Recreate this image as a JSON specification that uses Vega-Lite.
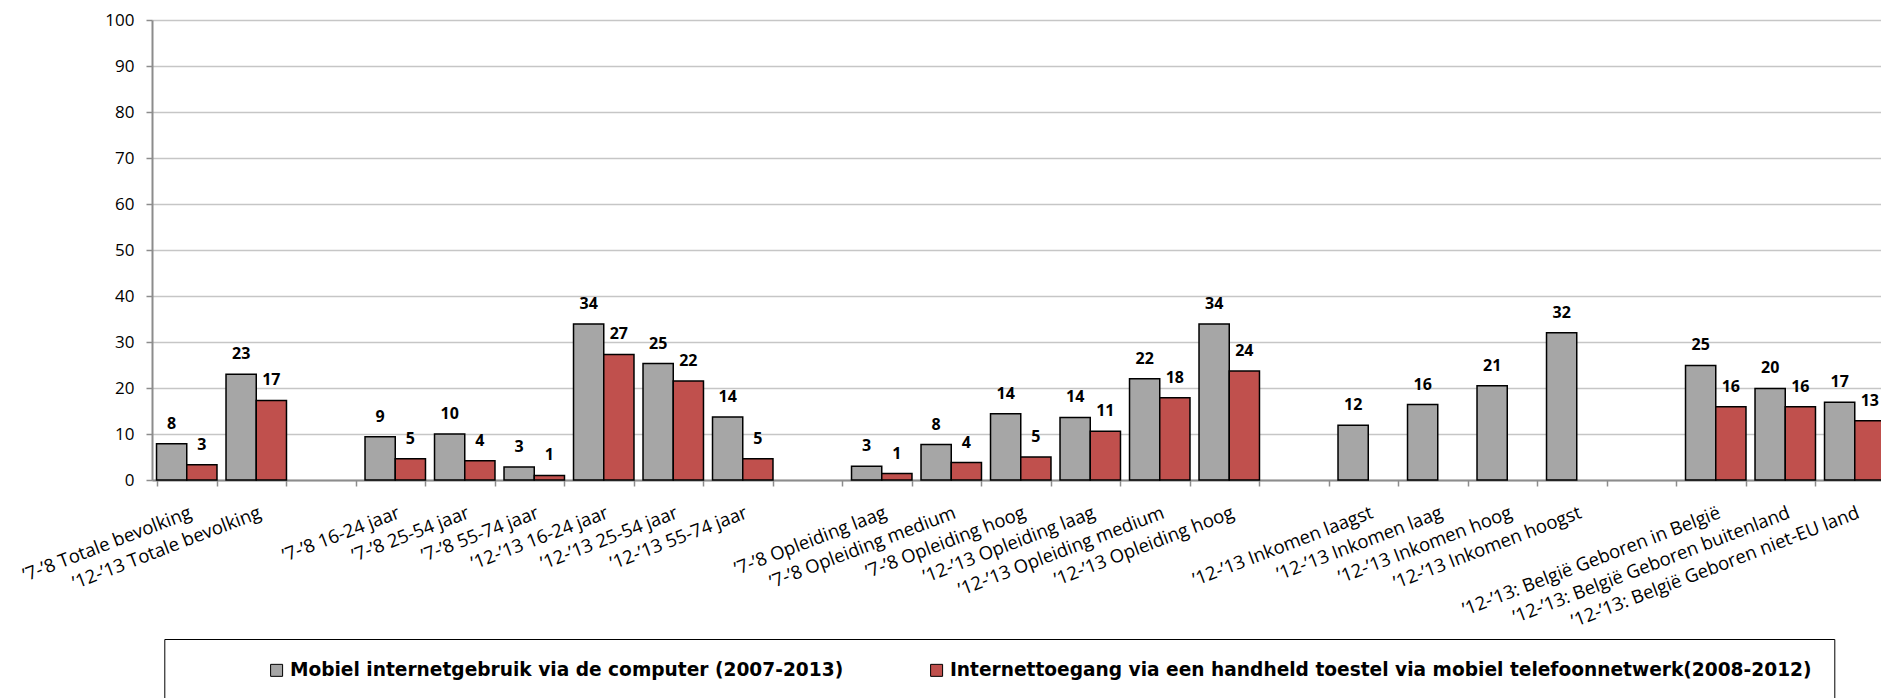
{
  "$schema": "https://vega.github.io/schema/vega-lite/v6.json",
  "width": 1729,
  "height": 460,
  "autosize": {"type": "none"},
  "padding": {"left": 152, "top": 20, "right": 0, "bottom": 218},
  "background": "white",
  "config": {"view": {"stroke": null}, "font": "Open Sans"},
  "data": {
    "values": [
      {"groep": "’7-’8 Totale bevolking", "reeks": "Mobiel internetgebruik via de computer (2007-2013)", "waarde": 7.9},
      {"groep": "’7-’8 Totale bevolking", "reeks": "Internettoegang via een handheld toestel via mobiel telefoonnetwerk(2008-2012)", "waarde": 3.3},
      {"groep": "’12-’13 Totale bevolking", "reeks": "Mobiel internetgebruik via de computer (2007-2013)", "waarde": 23.0},
      {"groep": "’12-’13 Totale bevolking", "reeks": "Internettoegang via een handheld toestel via mobiel telefoonnetwerk(2008-2012)", "waarde": 17.3},
      {"groep": "’7-’8 16-24 jaar", "reeks": "Mobiel internetgebruik via de computer (2007-2013)", "waarde": 9.4},
      {"groep": "’7-’8 16-24 jaar", "reeks": "Internettoegang via een handheld toestel via mobiel telefoonnetwerk(2008-2012)", "waarde": 4.6},
      {"groep": "’7-’8 25-54 jaar", "reeks": "Mobiel internetgebruik via de computer (2007-2013)", "waarde": 10.0},
      {"groep": "’7-’8 25-54 jaar", "reeks": "Internettoegang via een handheld toestel via mobiel telefoonnetwerk(2008-2012)", "waarde": 4.2},
      {"groep": "’7-’8 55-74 jaar", "reeks": "Mobiel internetgebruik via de computer (2007-2013)", "waarde": 2.8},
      {"groep": "’7-’8 55-74 jaar", "reeks": "Internettoegang via een handheld toestel via mobiel telefoonnetwerk(2008-2012)", "waarde": 1.0},
      {"groep": "’12-’13 16-24 jaar", "reeks": "Mobiel internetgebruik via de computer (2007-2013)", "waarde": 33.9},
      {"groep": "’12-’13 16-24 jaar", "reeks": "Internettoegang via een handheld toestel via mobiel telefoonnetwerk(2008-2012)", "waarde": 27.3},
      {"groep": "’12-’13 25-54 jaar", "reeks": "Mobiel internetgebruik via de computer (2007-2013)", "waarde": 25.3},
      {"groep": "’12-’13 25-54 jaar", "reeks": "Internettoegang via een handheld toestel via mobiel telefoonnetwerk(2008-2012)", "waarde": 21.5},
      {"groep": "’12-’13 55-74 jaar", "reeks": "Mobiel internetgebruik via de computer (2007-2013)", "waarde": 13.7},
      {"groep": "’12-’13 55-74 jaar", "reeks": "Internettoegang via een handheld toestel via mobiel telefoonnetwerk(2008-2012)", "waarde": 4.6},
      {"groep": "’7-’8 Opleiding laag", "reeks": "Mobiel internetgebruik via de computer (2007-2013)", "waarde": 3.0},
      {"groep": "’7-’8 Opleiding laag", "reeks": "Internettoegang via een handheld toestel via mobiel telefoonnetwerk(2008-2012)", "waarde": 1.4},
      {"groep": "’7-’8 Opleiding medium", "reeks": "Mobiel internetgebruik via de computer (2007-2013)", "waarde": 7.7},
      {"groep": "’7-’8 Opleiding medium", "reeks": "Internettoegang via een handheld toestel via mobiel telefoonnetwerk(2008-2012)", "waarde": 3.8},
      {"groep": "’7-’8 Opleiding hoog", "reeks": "Mobiel internetgebruik via de computer (2007-2013)", "waarde": 14.4},
      {"groep": "’7-’8 Opleiding hoog", "reeks": "Internettoegang via een handheld toestel via mobiel telefoonnetwerk(2008-2012)", "waarde": 5.0},
      {"groep": "’12-’13 Opleiding laag", "reeks": "Mobiel internetgebruik via de computer (2007-2013)", "waarde": 13.6},
      {"groep": "’12-’13 Opleiding laag", "reeks": "Internettoegang via een handheld toestel via mobiel telefoonnetwerk(2008-2012)", "waarde": 10.6},
      {"groep": "’12-’13 Opleiding medium", "reeks": "Mobiel internetgebruik via de computer (2007-2013)", "waarde": 22.0},
      {"groep": "’12-’13 Opleiding medium", "reeks": "Internettoegang via een handheld toestel via mobiel telefoonnetwerk(2008-2012)", "waarde": 17.9},
      {"groep": "’12-’13 Opleiding hoog", "reeks": "Mobiel internetgebruik via de computer (2007-2013)", "waarde": 33.9},
      {"groep": "’12-’13 Opleiding hoog", "reeks": "Internettoegang via een handheld toestel via mobiel telefoonnetwerk(2008-2012)", "waarde": 23.7},
      {"groep": "’12-’13 Inkomen laagst", "reeks": "Mobiel internetgebruik via de computer (2007-2013)", "waarde": 11.9},
      {"groep": "’12-’13 Inkomen laag", "reeks": "Mobiel internetgebruik via de computer (2007-2013)", "waarde": 16.4},
      {"groep": "’12-’13 Inkomen hoog", "reeks": "Mobiel internetgebruik via de computer (2007-2013)", "waarde": 20.5},
      {"groep": "’12-’13 Inkomen hoogst", "reeks": "Mobiel internetgebruik via de computer (2007-2013)", "waarde": 32.0},
      {"groep": "’12-’13: België Geboren in België", "reeks": "Mobiel internetgebruik via de computer (2007-2013)", "waarde": 24.9},
      {"groep": "’12-’13: België Geboren in België", "reeks": "Internettoegang via een handheld toestel via mobiel telefoonnetwerk(2008-2012)", "waarde": 15.9},
      {"groep": "’12-’13: België Geboren buitenland", "reeks": "Mobiel internetgebruik via de computer (2007-2013)", "waarde": 19.9},
      {"groep": "’12-’13: België Geboren buitenland", "reeks": "Internettoegang via een handheld toestel via mobiel telefoonnetwerk(2008-2012)", "waarde": 15.9},
      {"groep": "’12-’13: België Geboren niet-EU land", "reeks": "Mobiel internetgebruik via de computer (2007-2013)", "waarde": 16.9},
      {"groep": "’12-’13: België Geboren niet-EU land", "reeks": "Internettoegang via een handheld toestel via mobiel telefoonnetwerk(2008-2012)", "waarde": 12.9}
    ]
  },
  "encoding": {
    "x": {
      "field": "groep",
      "type": "nominal",
      "sort": null,
      "scale": {
        "domain": [
          "’7-’8 Totale bevolking", "’12-’13 Totale bevolking", " ",
          "’7-’8 16-24 jaar", "’7-’8 25-54 jaar", "’7-’8 55-74 jaar", "’12-’13 16-24 jaar", "’12-’13 25-54 jaar", "’12-’13 55-74 jaar", "  ",
          "’7-’8 Opleiding laag", "’7-’8 Opleiding medium", "’7-’8 Opleiding hoog", "’12-’13 Opleiding laag", "’12-’13 Opleiding medium", "’12-’13 Opleiding hoog", "   ",
          "’12-’13 Inkomen laagst", "’12-’13 Inkomen laag", "’12-’13 Inkomen hoog", "’12-’13 Inkomen hoogst", "    ",
          "’12-’13: België Geboren in België", "’12-’13: België Geboren buitenland", "’12-’13: België Geboren niet-EU land"
        ],
        "range": [0, 1737.5],
        "paddingInner": 0.13,
        "paddingOuter": 0.065
      },
      "axis": {
        "title": null,
        "labelAngle": -21,
        "labelAlign": "right",
        "labelBaseline": "top",
        "labelFont": "Open Sans",
        "labelFontSize": 18.5,
        "labelColor": "#000",
        "labelPadding": 17,
        "labelLimit": 0,
        "labelOverlap": false,
        "tickBand": "extent",
        "tickSize": 6,
        "tickWidth": 1.5,
        "tickColor": "#8c8c8c",
        "domainColor": "#8c8c8c",
        "domainWidth": 2,
        "grid": false
      }
    },
    "xOffset": {
      "field": "reeks",
      "type": "nominal",
      "scale": {
        "domain": ["Mobiel internetgebruik via de computer (2007-2013)", "Internettoegang via een handheld toestel via mobiel telefoonnetwerk(2008-2012)"],
        "paddingInner": 0,
        "paddingOuter": 0
      }
    },
    "y": {
      "field": "waarde",
      "type": "quantitative",
      "scale": {"domain": [0, 100], "nice": false},
      "axis": {
        "title": null,
        "values": [0, 10, 20, 30, 40, 50, 60, 70, 80, 90, 100],
        "grid": true,
        "gridColor": "#c6c6c6",
        "gridWidth": 1.3,
        "domainColor": "#8c8c8c",
        "domainWidth": 2,
        "tickColor": "#8c8c8c",
        "tickWidth": 1.5,
        "tickSize": 6,
        "labelFont": "Open Sans",
        "labelFontSize": 17,
        "labelColor": "#000",
        "labelPadding": 12
      }
    }
  },
  "layer": [
    {
      "mark": {"type": "bar", "stroke": "#000", "strokeWidth": 1.5},
      "encoding": {
        "color": {
          "field": "reeks",
          "type": "nominal",
          "scale": {
            "domain": ["Mobiel internetgebruik via de computer (2007-2013)", "Internettoegang via een handheld toestel via mobiel telefoonnetwerk(2008-2012)"],
            "range": ["#a6a6a6", "#c0504d"]
          },
          "legend": {
            "orient": "none",
            "legendX": 12.3,
            "legendY": 619,
            "direction": "horizontal",
            "title": " ",
            "titleOrient": "left",
            "titleFontSize": 1,
            "titlePadding": 81,
            "padding": 22,
            "strokeColor": "#000",
            "symbolType": "square",
            "symbolSize": 144,
            "symbolStrokeColor": "#000",
            "symbolStrokeWidth": 1,
            "symbolOpacity": 1,
            "labelFont": "DejaVu Sans",
            "labelFontWeight": "bold",
            "labelFontSize": 18.6,
            "labelColor": "#000",
            "labelLimit": 3000,
            "labelOffset": 4,
            "columnPadding": 84,
            "labelExpr": "datum.value == 'Internettoegang via een handheld toestel via mobiel telefoonnetwerk(2008-2012)' ? datum.label + '\u00a0\u00a0\u00a0\u00a0\u00a0\u00a0\u00a0\u00a0\u00a0\u00a0\u00a0\u00a0\u00a0\u00a0\u00a0\u00a0\u00a0\u00a0\u00a0\u00a0\u00a0\u00a0\u00a0\u00a0\u00a0\u00a0\u00a0\u00a0\u00a0\u00a0\u00a0\u00a0\u00a0\u00a0\u00a0\u00a0\u00a0\u00a0\u00a0\u00a0\u00a0\u00a0\u00a0\u00a0\u00a0\u00a0\u00a0\u00a0\u00a0\u00a0\u00a0\u00a0\u00a0\u00a0\u00a0\u00a0\u00a0\u00a0\u00a0\u00a0' : datum.label"
          }
        }
      }
    },
    {
      "mark": {"type": "text", "font": "Open Sans", "fontWeight": "bold", "fontSize": 16, "baseline": "alphabetic", "dy": -15, "color": "#000"},
      "encoding": {
        "text": {"field": "waarde", "type": "quantitative", "format": ".0f"}
      }
    }
  ]
}
